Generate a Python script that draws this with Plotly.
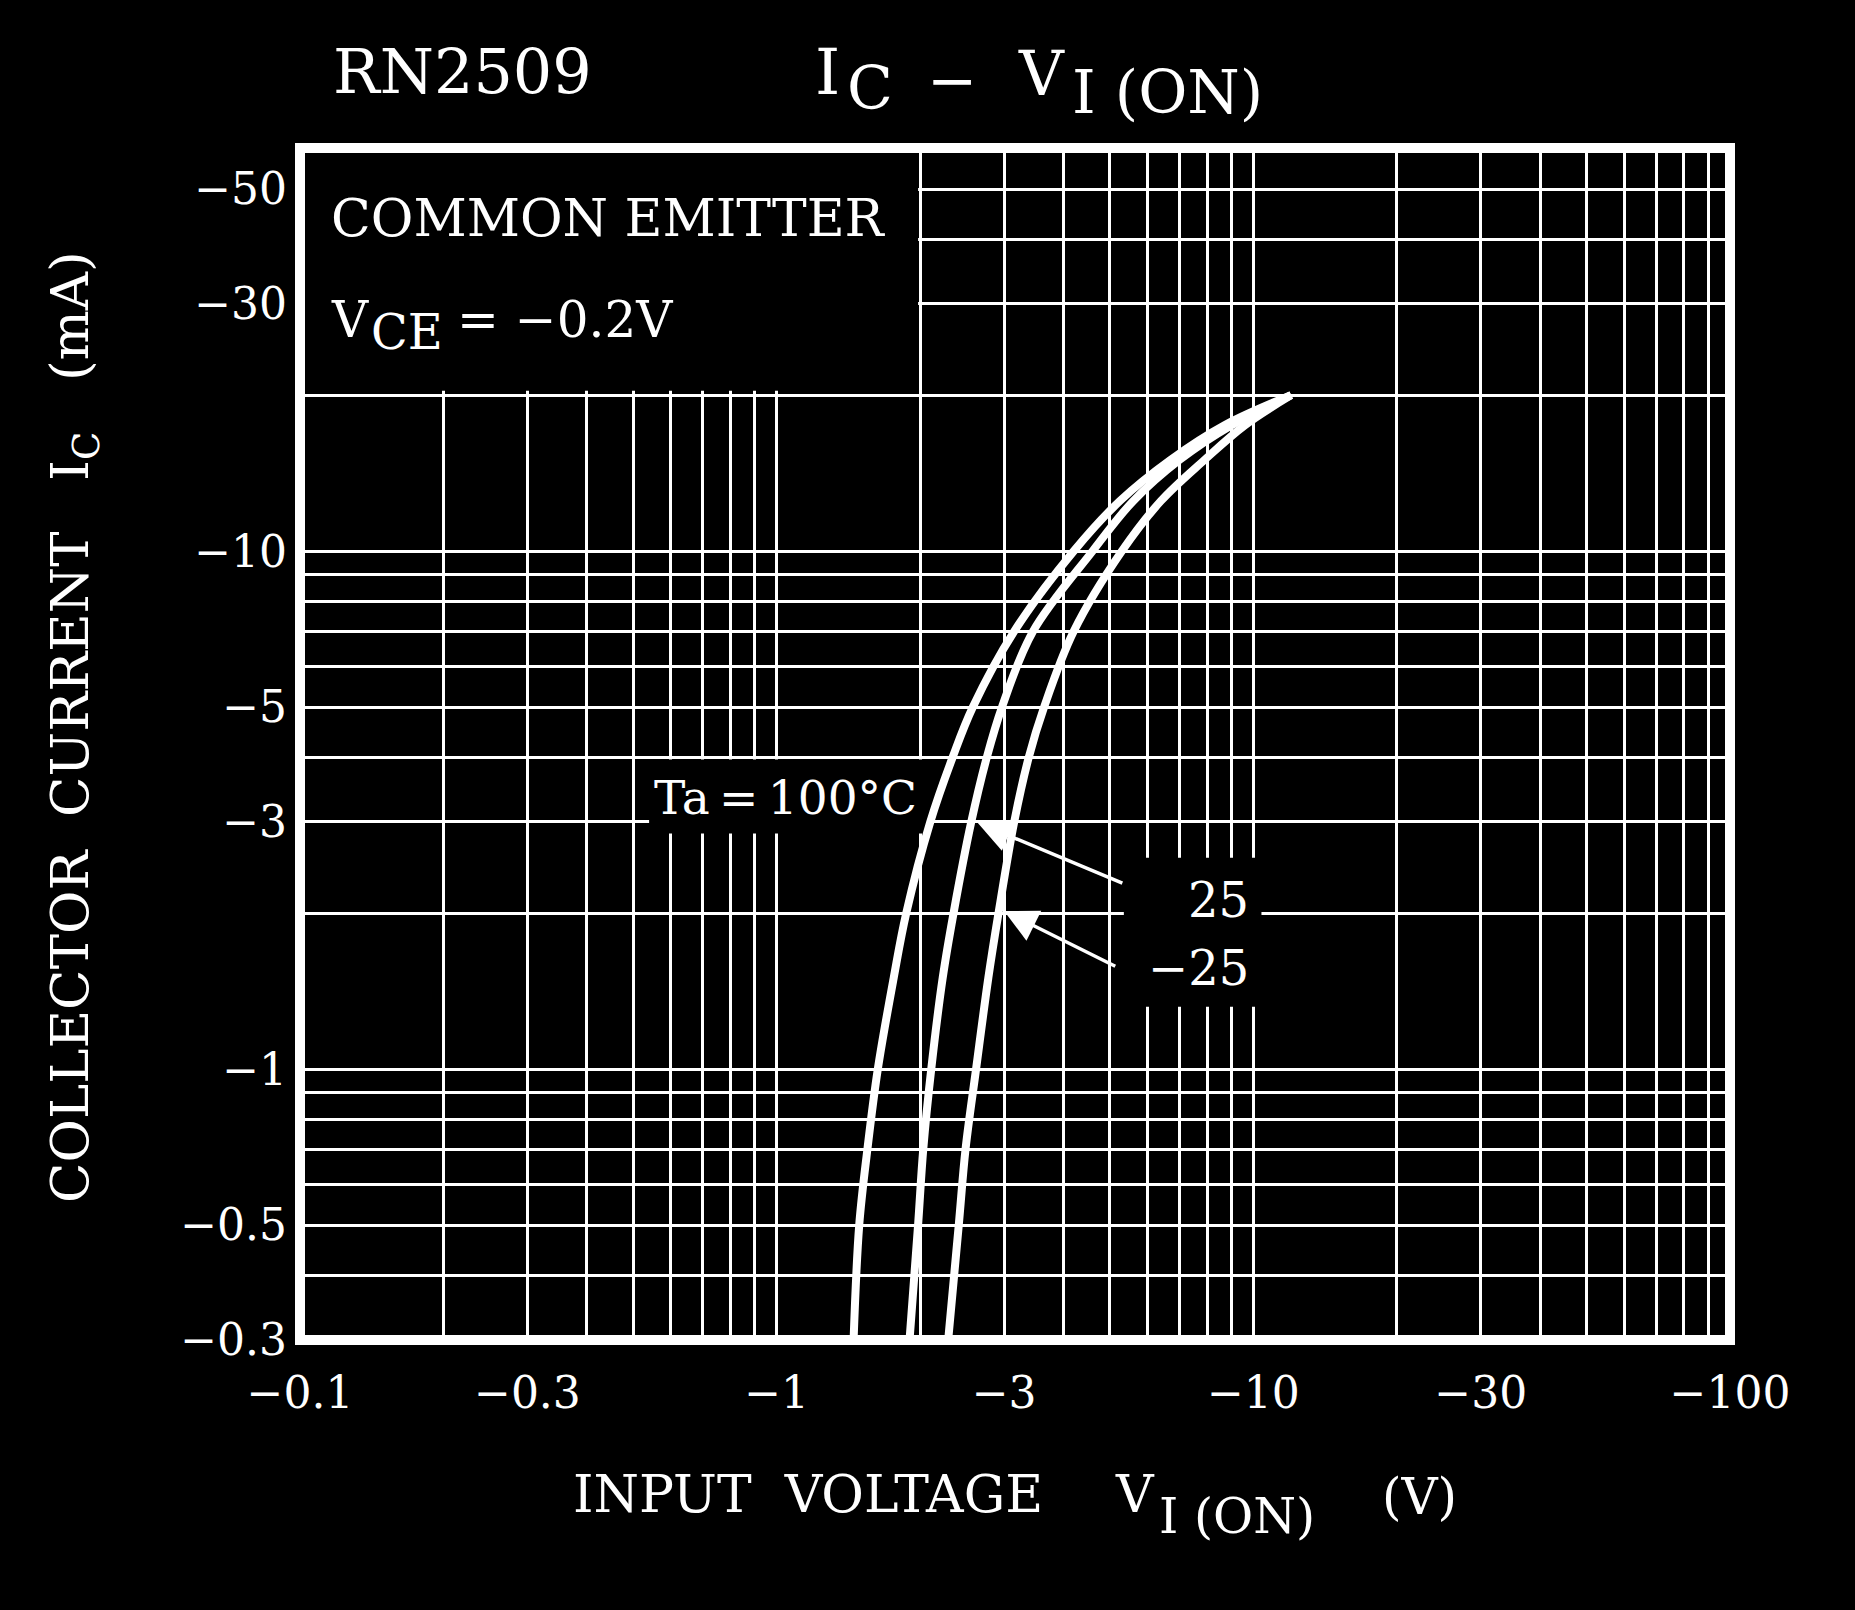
import math
import plotly.graph_objects as go

# ---------------- data ----------------
IC_MA = [0.3, 0.5, 0.7, 1, 1.5, 2, 3, 4, 5, 7, 10, 12.5, 15, 17.5, 20]
V_TA100 = [1.45, 1.49, 1.55, 1.63, 1.76, 1.87, 2.10, 2.34, 2.58, 3.15, 4.2, 5.25, 6.7, 8.7, 12.0]
V_TA25 = [1.90, 1.98, 2.03, 2.11, 2.23, 2.35, 2.56, 2.76, 2.97, 3.45, 4.6, 5.6, 7.0, 9.0, 12.0]
V_TAM25 = [2.29, 2.41, 2.49, 2.62, 2.78, 2.92, 3.15, 3.38, 3.64, 4.2, 5.3, 6.4, 7.9, 9.6, 12.0]

X_TICKS = [0.1, 0.3, 1, 3, 10, 30, 100]
X_TICKTEXT = ["\u22120.1", "\u22120.3", "\u22121", "\u22123", "\u221210", "\u221230", "\u2212100"]
Y_TICKS = [0.3, 0.5, 1, 3, 5, 10, 30, 50]
Y_TICKTEXT = ["\u22120.3", "\u22120.5", "\u22121", "\u22123", "\u22125", "\u221210", "\u221230", "\u221250"]

X_GRID = [m * 10 ** e for e in (-1, 0, 1) for m in range(1, 10)] + [100]
Y_GRID = [m * 10 ** e for e in (-1, 0, 1) for m in range(1, 10) if 0.3 <= m * 10 ** e <= 60] + [60]

FONT = "DejaVu Serif"
W, H = 1855, 1610
L, R, T, B = 300, 125, 148, 270
PW, PH = W - L - R, H - T - B


def px(xp):
    return (xp - L) / PW


def py(yp):
    return (H - B - yp) / PH


fig = go.Figure()
for v in (V_TA100, V_TA25, V_TAM25):
    fig.add_trace(go.Scatter(
        x=v, y=IC_MA, mode="lines",
        line=dict(color="white", width=8, shape="spline", smoothing=1.0),
        hoverinfo="skip", showlegend=False))

# black boxes that hide the grid behind the labels
boxes = [
    (0.1, 1.98, 20.4, 60),     # COMMON EMITTER box
    (0.54, 2.07, 2.85, 3.96),  # Ta = 100°C
    (5.35, 10.4, 1.32, 2.56),  # 25 / -25
]
for x0, x1, y0, y1 in boxes:
    fig.add_shape(type="rect", xref="x", yref="y", x0=x0, x1=x1, y0=y0, y1=y1,
                  fillcolor="black", line=dict(width=0), layer="between")

# plot frame, centred on the plot edge
fig.add_shape(type="rect", xref="paper", yref="paper", x0=0, x1=1, y0=0, y1=1,
              line=dict(color="white", width=10), layer="above")

ann = []


def text(s, xp, yp, size, xanchor="left", yanchor="middle", angle=0):
    ann.append(dict(text=s, xref="paper", yref="paper", x=px(xp), y=py(yp),
                    xanchor=xanchor, yanchor=yanchor, showarrow=False, textangle=angle,
                    font=dict(family=FONT, size=size, color="white")))


# title
text("RN2509", 331, 72, 62)
text("I", 813, 72, 64)
text("C", 845, 88, 60)
text("\u2212", 952, 80, 60, xanchor="center")
text("V", 1016, 74, 62)
text("I (ON)", 1070, 92, 60)

# box texts
text("COMMON EMITTER", 329, 218, 52)
text("V", 329, 320, 50)
text("CE", 369, 332, 48)
text("= \u22120.2V", 455, 320, 50)

# curve labels
text("Ta\u2009=\u2009100\u00b0C", 652, 797, 47)
text("25", 1251, 900, 48, xanchor="right")
text("\u221225", 1251, 968, 48, xanchor="right")

# axis titles
text("INPUT  VOLTAGE", 571, 1494, 52)
text("V", 1113, 1494, 52)
text("I (ON)", 1157, 1516, 49)
text("(V)", 1380, 1497, 50)
text("COLLECTOR  CURRENT   I<sub>C</sub>   (mA)", 73, 727, 53, xanchor="center", angle=-90)

# arrows for 25 and -25
for tip, tail in (((2.64, 2.99), (5.35, 2.28)), ((3.0, 2.02), (5.17, 1.575))):
    ann.append(dict(x=math.log10(tip[0]), y=math.log10(tip[1]),
                    ax=math.log10(tail[0]), ay=math.log10(tail[1]),
                    xref="x", yref="y", axref="x", ayref="y", text="",
                    showarrow=True, arrowhead=2, arrowsize=1.9, arrowwidth=3.5,
                    arrowcolor="white", standoff=0))

axis_common = dict(
    type="log", showline=False,
    showgrid=True, gridcolor="white", gridwidth=3, zeroline=False,
    ticks="", tickfont=dict(family=FONT, size=44, color="white"),
)
fig.update_layout(
    width=W, height=H,
    margin=dict(l=L, r=R, t=T, b=B),
    paper_bgcolor="black", plot_bgcolor="black",
    xaxis=dict(**axis_common, range=[-1, 2], tickmode="array", tickvals=X_TICKS,
               ticktext=X_TICKTEXT, ticklabelstandoff=23,
               minor=dict(tickmode="array", tickvals=X_GRID, showgrid=True,
                          gridcolor="white", gridwidth=3, ticks="")),
    yaxis=dict(**axis_common, range=[math.log10(0.3), math.log10(60)], tickmode="array",
               tickvals=Y_TICKS, ticktext=Y_TICKTEXT, ticklabelstandoff=12,
               minor=dict(tickmode="array", tickvals=Y_GRID, showgrid=True,
                          gridcolor="white", gridwidth=3, ticks="")),
    annotations=ann,
    showlegend=False,
)

fig.write_html("out.html", config={"displayModeBar": False},
               post_script="document.body.style.margin='0';")
